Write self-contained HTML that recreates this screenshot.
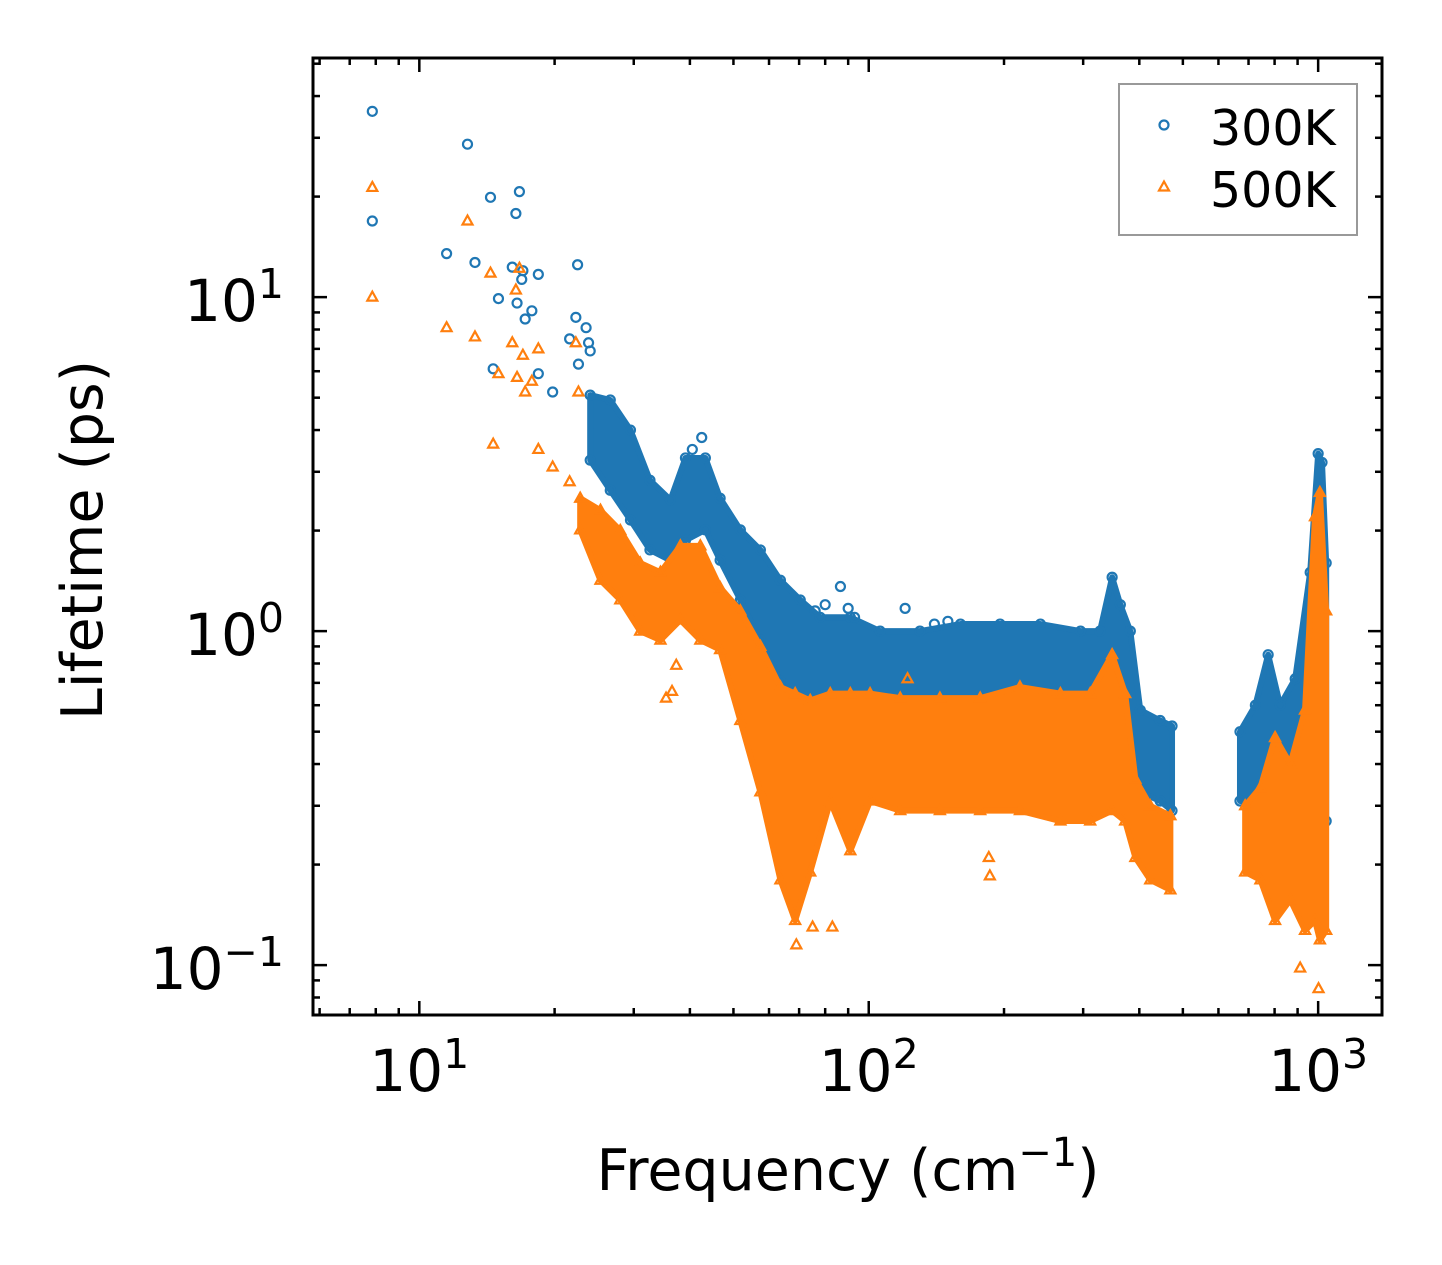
<!DOCTYPE html>
<html><head><meta charset="utf-8"><style>
html,body{margin:0;padding:0;background:#fff;}
svg{display:block;font-family:"DejaVu Sans","Liberation Sans",sans-serif;}
</style></head><body>
<svg id="chart" width="1442" height="1265" viewBox="0 0 1442 1265" xmlns="http://www.w3.org/2000/svg">
<rect width="1442" height="1265" fill="#fff"/>
<g id="plot"></g>
<g id="axes"></g>
</svg>
<script>
// ---- data (frequency cm^-1, lifetime ps) ----
const blueSparseF = [7.86,7.86,11.5,12.8,13.3,14.4,14.6,15.0,16.1,16.4,16.5,16.7,16.9,17.0,17.2,17.8,18.4,18.4,19.8,21.6,22.3,22.5,22.6,23.5,23.8,24.0,120.5,86.5,40.5,42.5,80,76,90,93,140,150];
const blueSparseV = [36,16.9,13.5,28.7,12.7,19.9,6.1,9.9,12.3,17.8,9.6,20.7,11.3,12.0,8.6,9.1,11.7,5.9,5.2,7.5,8.7,12.5,6.3,8.1,7.3,6.9,1.17,1.36,3.5,3.8,1.2,1.15,1.17,1.1,1.05,1.07];
const orangeSparseF = [7.86,7.86,11.5,12.8,13.3,14.4,14.6,15.0,16.1,16.4,16.5,16.7,17.0,17.2,17.8,18.4,18.4,19.8,21.6,22.3,22.6,35.4,36.5,37.3,69,75,83,1002,912,122,185,186];
const orangeSparseV = [21.3,10,8.1,16.9,7.6,11.8,3.63,5.9,7.3,10.5,5.75,12.2,6.7,5.2,5.6,7.0,3.5,3.1,2.8,7.3,5.2,0.63,0.66,0.79,0.115,0.13,0.13,0.085,0.098,0.72,0.21,0.185];
// dense clouds: frequency with upper / lower envelope of lifetime
const blueBandAF = [24.0,26.6,29.5,32.6,36.2,39.1,43.3,46.7,51.8,57.4,63.6,70.4,78.0,91.0,106,130,160,196,241,296,327,348,363,382,402,445,473];
const blueBandATop = [5.09,4.92,4.0,2.83,2.47,3.3,3.3,2.5,2.01,1.75,1.42,1.24,1.1,1.1,1.0,1.0,1.05,1.05,1.05,1.0,1.0,1.45,1.2,1.0,0.58,0.54,0.52];
const blueBandABot = [3.25,2.64,2.15,1.75,1.63,1.87,2.01,1.63,1.24,0.94,0.71,0.54,0.54,0.47,0.51,0.51,0.54,0.54,0.54,0.54,0.54,0.62,0.54,0.47,0.33,0.31,0.29];
const blueBandBF = [670,725,774,823,889,960,1000,1020,1042];
const blueBandBTop = [0.5,0.6,0.85,0.6,0.72,1.5,3.4,3.2,1.6];
const blueBandBBot = [0.31,0.31,0.33,0.31,0.31,0.31,0.27,0.25,0.27];
const orangeBandAF = [22.8,25.3,28.0,31.0,34.4,38.1,42.2,46.7,51.8,57.4,63.6,68.6,74.1,82.1,91.0,100.7,117.5,144,177,217,267,311,348,372,392,423,469];
const orangeBandATop = [2.5,2.3,2.0,1.6,1.5,1.8,1.8,1.35,1.15,0.9,0.68,0.65,0.62,0.65,0.65,0.65,0.63,0.63,0.63,0.68,0.65,0.65,0.85,0.65,0.36,0.3,0.28];
const orangeBandABot = [2.01,1.42,1.24,1.0,0.94,1.08,0.94,0.88,0.54,0.33,0.18,0.136,0.19,0.31,0.22,0.31,0.29,0.29,0.29,0.29,0.27,0.27,0.29,0.27,0.21,0.18,0.168];
const orangeBandBF = [688,744,802,867,935,984,1009,1042];
const orangeBandBTop = [0.3,0.34,0.48,0.4,0.58,2.2,2.6,1.15];
const orangeBandBBot = [0.19,0.18,0.136,0.157,0.127,0.136,0.119,0.127];
const xMajorTicks = [10,100,1000];
const xTickLabels = ["1","2","3"];
const yMajorTicks = [0.1,1,10];
const yTickLabels = ["\u22121","0","1"];

// ---- axes ----
const L=313,R=1382,T=58,B=1015;
const xmin=Math.log10(5.8), xmax=Math.log10(1387);
const ymin=Math.log10(0.0709), ymax=Math.log10(52);
const xs=f=>L+(Math.log10(f)-xmin)/(xmax-xmin)*(R-L);
const ys=v=>B-(Math.log10(v)-ymin)/(ymax-ymin)*(B-T);
const NS="http://www.w3.org/2000/svg";
function mk(tag,attrs,parent){const e=document.createElementNS(NS,tag);for(const k in attrs)e.setAttribute(k,attrs[k]);parent.appendChild(e);return e;}
const plot=document.getElementById('plot'), axes=document.getElementById('axes');
const BLUE="#1f77b4", ORANGE="#ff7f0e";

function band(F,Top,Bot,color,name,marker){
  let d="";
  F.forEach((f,i)=>{d+=(i?"L":"M")+xs(f)+","+ys(Top[i]);});
  for(let i=F.length-1;i>=0;i--)d+="L"+xs(F[i])+","+ys(Bot[i]);
  const p=mk('path',{d:d+"Z",fill:color,stroke:color,'stroke-width':6,'stroke-linejoin':'round'},plot);
  
  
  F.forEach((f,i)=>{marker(f,Top[i]);marker(f,Bot[i]);});
}
function circ(f,v){
  const c=mk('circle',{cx:xs(f),cy:ys(v),r:4.5,fill:'none',stroke:BLUE,'stroke-width':2.2},plot);
  
  
}
function tri(f,v){
  const x=xs(f),y=ys(v);
  const t=mk('polygon',{points:`${x},${y-5.5} ${x+5},${y+3.5} ${x-5},${y+3.5}`,fill:'none',stroke:ORANGE,'stroke-width':2.2},plot);
  
  
}
band(blueBandAF,blueBandATop,blueBandABot,BLUE,'cloud-300k-low',circ);
band(blueBandBF,blueBandBTop,blueBandBBot,BLUE,'cloud-300k-high',circ);
blueSparseF.forEach((f,i)=>circ(f,blueSparseV[i]));
band(orangeBandAF,orangeBandATop,orangeBandABot,ORANGE,'cloud-500k-low',tri);
band(orangeBandBF,orangeBandBTop,orangeBandBBot,ORANGE,'cloud-500k-high',tri);
orangeSparseF.forEach((f,i)=>tri(f,orangeSparseV[i]));

// frame
const fr=mk('rect',{x:L,y:T,width:R-L,height:B-T,fill:'none',stroke:'#000','stroke-width':3},axes);


function tick(x1,y1,x2,y2){mk('line',{x1,y1,x2,y2,stroke:'#000','stroke-width':2.5},axes);}
for(let e=0;e<=3;e++)for(let m=1;m<10;m++){
  const f=m*Math.pow(10,e); if(f<5.8||f>1387)continue;
  const len=(m===1)?14:7, x=xs(f);
  tick(x,B,x,B-len); tick(x,T,x,T+len);
}
for(let e=-2;e<=1;e++)for(let m=1;m<10;m++){
  const v=m*Math.pow(10,e); if(v<0.0709||v>52)continue;
  const len=(m===1)?14:7, y=ys(v);
  tick(L,y,L+len,y); tick(R,y,R-len,y);
}
xMajorTicks.forEach((f,i)=>{
  const t=mk('text',{x:xs(f),y:1091,'font-size':58,'text-anchor':'middle',fill:'#000'},axes);
  
  
  t.innerHTML='10<tspan dy="-23" font-size="41">'+xTickLabels[i]+'</tspan>';
});
yMajorTicks.forEach((v,i)=>{
  const t=mk('text',{x:284,y:ys(v)+24,'font-size':58,'text-anchor':'end',fill:'#000'},axes);
  
  
  t.innerHTML='10<tspan dy="-23" font-size="41">'+yTickLabels[i]+'</tspan>';
});
</script>
<svg style="position:absolute;left:0;top:0" width="1442" height="1265" xmlns="http://www.w3.org/2000/svg">
<text x="848" y="1190" font-size="57" text-anchor="middle" font-family="DejaVu Sans, Liberation Sans, sans-serif">Frequency (cm<tspan dy="-24" font-size="40">−1</tspan><tspan dy="24">)</tspan></text>
<text transform="translate(102,540) rotate(-90)" font-size="57" text-anchor="middle" font-family="DejaVu Sans, Liberation Sans, sans-serif">Lifetime (ps)</text>
<g>
<rect x="1119" y="84" width="238" height="151" fill="#fff" fill-opacity="0.8" stroke="#999" stroke-width="2"/>
<circle cx="1164" cy="125" r="4.5" fill="none" stroke="#1f77b4" stroke-width="2.2"/>
<text x="1210" y="145" font-size="49" font-family="DejaVu Sans, Liberation Sans, sans-serif">300K</text>
<polygon points="1164,181.5 1169,190.5 1159,190.5" fill="none" stroke="#ff7f0e" stroke-width="2.2"/>
<text x="1210" y="207" font-size="49" font-family="DejaVu Sans, Liberation Sans, sans-serif">500K</text>
</g>
</svg>
</body></html>
